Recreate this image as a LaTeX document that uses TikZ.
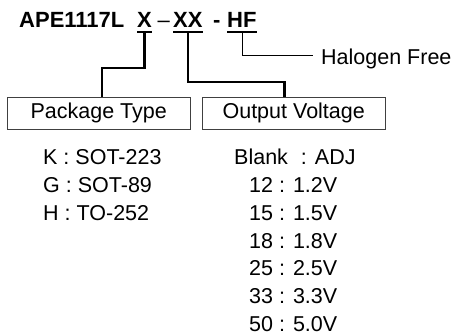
\documentclass[tikz,border=0pt]{standalone}
\usepackage{fontspec}
\setmainfont{Liberation Sans}
\usepackage{tikz}
\usetikzlibrary{positioning}

\begin{document}
\begin{tikzpicture}[x=1pt,y=-1pt,
    part/.style={inner sep=0pt,anchor=base west,font=\fontsize{22}{26}\selectfont\bfseries},
    lbl/.style={inner sep=0pt,anchor=base west,font=\fontsize{21.5}{26}\selectfont},
    typebox/.style={draw=black!75,line width=0.9pt,minimum width=183pt,minimum height=32pt,
      inner sep=0pt,font=\fontsize{21.5}{26}\selectfont},
    uline/.style={line width=2.4pt},
    conn/.style={line width=2.4pt},
    thinconn/.style={line width=0.9pt}]
  \useasboundingbox (0,0) rectangle (454,336);
  \def\bl{27.5}    \def\ul{32}
  % part number
  \node[part] (base)  at (19,\bl)  {APE1117L};
  \node[part] (pkgX)  at (137,\bl) {X};
  \node[part,font=\fontsize{22}{26}\selectfont] (dashA) at (157.5,\bl) {--};
  \node[part] (voltXX) at (173,\bl) {XX};
  \node[part] (dashB) at (213,\bl) {-};
  \node[part] (hf)    at (227,\bl) {HF};
  % underlines
  \draw[uline] (pkgX.west |- 0,\ul) -- (pkgX.east |- 0,\ul);
  \draw[uline] (voltXX.west |- 0,\ul) -- (voltXX.east |- 0,\ul);
  \draw[uline] (hf.west |- 0,\ul) -- (hf.east |- 0,\ul);
  \coordinate (ulX)  at (pkgX.base |- 0,\ul);
  \coordinate (ulXX) at (voltXX.base |- 0,\ul);
  \coordinate (ulHF) at ([xshift=0.5pt]hf.base |- 0,\ul);
  % boxes
  \node[typebox] (pkgbox)  at (98.7,113.3)  {Package Type};
  \node[typebox] (voltbox) at (293.7,113.3) {Output Voltage};
  \node[lbl] (halogen) at (321,65) {Halogen Free};
  \coordinate (hfEnd) at ([xshift=-8pt]halogen.west |- 0,55);
  % connectors
  \draw[conn] (ulX) -- ++(0,36) -| ([xshift=3pt]pkgbox.north);
  \draw[conn] (ulXX) -- ++(0,50) -| ([xshift=-9.4pt]voltbox.north);
  \draw[thinconn] (ulHF) |- (hfEnd);
  % package list
  \node[lbl] (pkgK) at (43,165)   {K : SOT-223};
  \node[lbl] (pkgG) at (43,192.7) {G : SOT-89};
  \node[lbl] (pkgH) at (43,220.4) {H : TO-252};
  % voltage list
  \node[lbl] (vADJ) at (234,165) {Blank\hspace{13pt}: ADJ};
  \foreach \c/\v [count=\i] in {12/1.2V,15/1.5V,18/1.8V,25/2.5V,33/3.3V,50/5.0V}
    \node[lbl] (v\c) at (249,165+27.7*\i) {\c\ : \v};
\end{tikzpicture}
\end{document}
